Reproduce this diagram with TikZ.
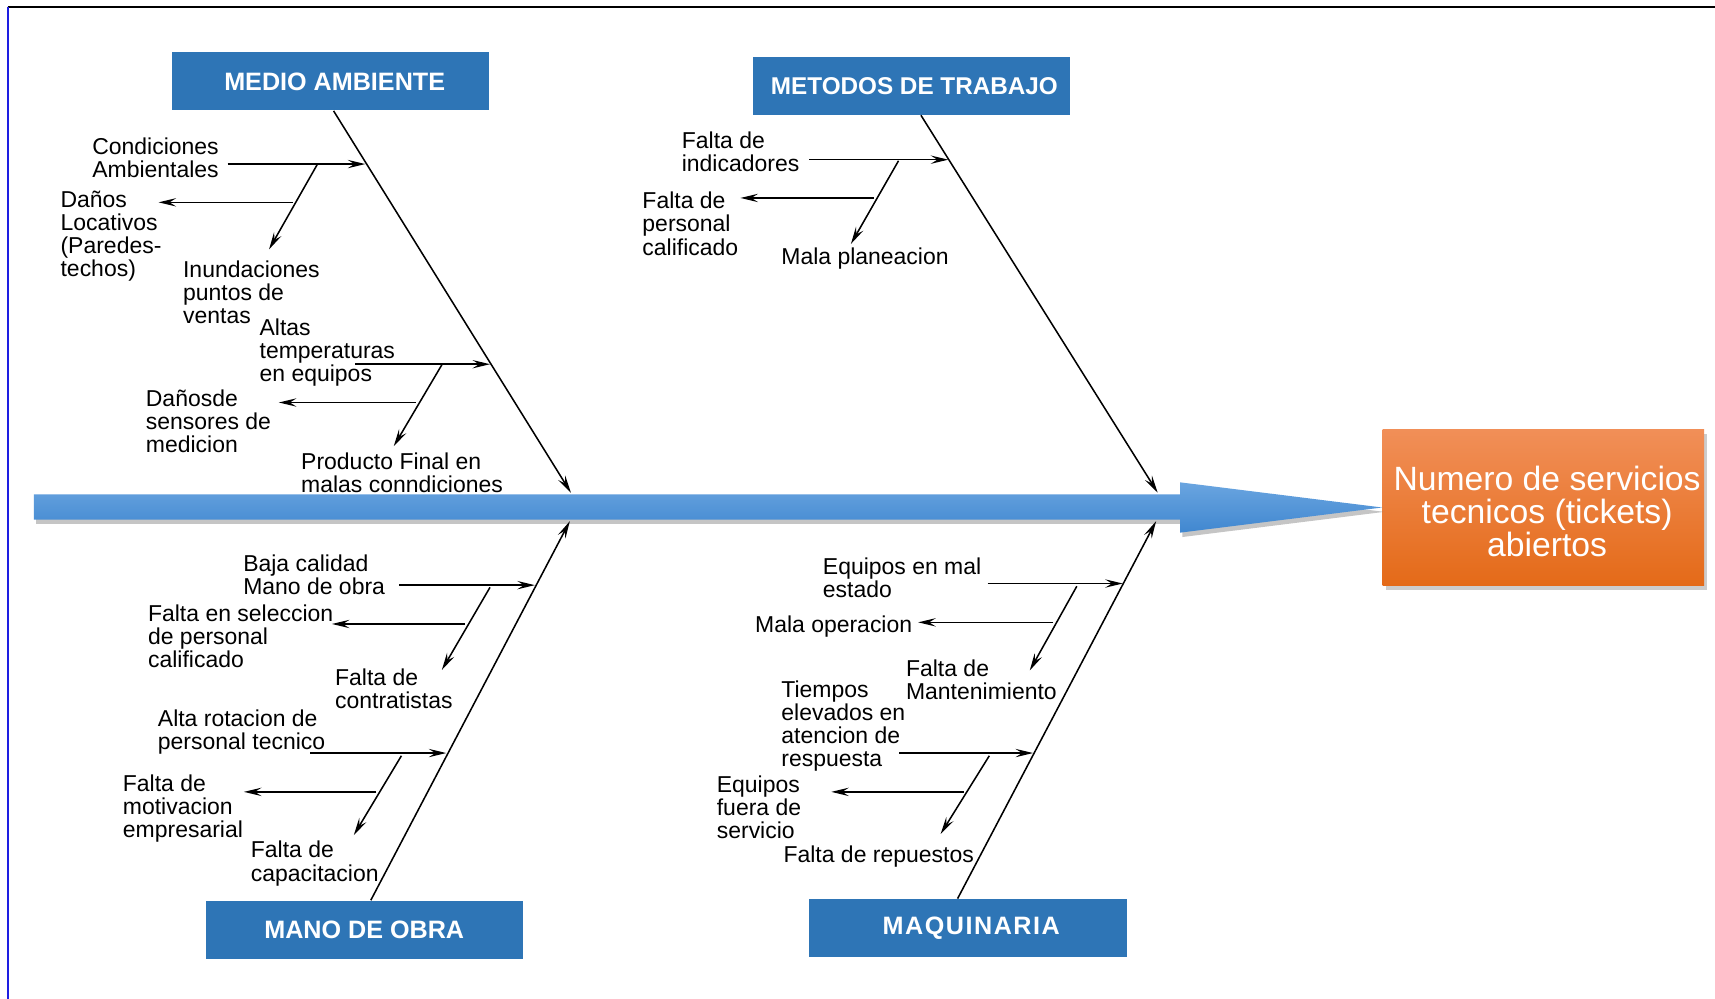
\documentclass[tikz,border=0pt]{standalone}
\usepackage{fontspec}
\setmainfont{Liberation Sans}
\usetikzlibrary{arrows.meta,shadows}
\definecolor{catblue}{RGB}{46,117,182}
\definecolor{spinetop}{RGB}{106,165,224}
\definecolor{spinebot}{RGB}{64,135,208}
\definecolor{orangetop}{RGB}{241,143,88}
\definecolor{orangebot}{RGB}{228,106,24}
\definecolor{frameblue}{RGB}{30,30,225}
\tikzset{
  cat/.style={fill=catblue, text=white, font=\bfseries\fontsize{11.5}{12}\selectfont,
    minimum width=145pt, minimum height=26.5pt, inner sep=0pt},
  effect/.style={top color=orangetop, bottom color=orangebot, text=white,
    font=\fontsize{15.4}{15}\selectfont, align=center,
    minimum width=147pt, minimum height=71.5pt, inner sep=0pt,
    drop shadow={shadow xshift=1.5pt, shadow yshift=-2pt, opacity=0.4}},
  lbl/.style={font=\fontsize{10.5}{10.6}\selectfont, align=left, inner sep=0pt, anchor=west},
  bone/.style={draw=black, line width=0.7pt, -{Stealth[length=8pt,width=3.8pt,inset=3pt]}},
  frameline/.style={line width=0.9pt}
}
\begin{document}
\begin{tikzpicture}[x=0.5pt,y=-0.5pt]
\useasboundingbox (0,0) rectangle (1568,913);
\fill[white] (0,0) rectangle (1568,913);
% frame
\coordinate (fa) at (7,6);
\coordinate (fb) at (1568,6);
\coordinate (fc) at (7,913);
\draw[frameline, black] (fa) -- (fb);
\draw[frameline, frameblue] (fa) -- (fc);

% effect box
\node[effect] (ef) at (1411,464) {\rule{0pt}{15pt}\hspace*{3.5pt}Numero de servicios\\\hspace*{3.5pt}tecnicos (tickets)\\\hspace*{3.5pt}abiertos};

% spine
\shade[top color=spinetop, bottom color=spinebot,
  drop shadow={shadow xshift=1pt, shadow yshift=-2pt, opacity=0.45}]
  (31,452) -- (1079,452) -- (1079,441) -- (ef.west) -- (1079,487) -- (1079,475) -- (31,475) -- cycle;

% category boxes
\node[cat] (ma) at (302,74.5) {\hspace*{4pt}MEDIO AMBIENTE};
\node[cat, font=\bfseries\fontsize{11.1}{12}\selectfont] (mt) at (833,78.5) {\hspace*{3pt}METODOS DE TRABAJO};
\node[cat] (mo) at (333,850) {\raisebox{-0.5pt}{MANO DE OBRA}};
\node[cat, font=\bfseries\fontsize{11.5}{12}\selectfont\addfontfeatures{LetterSpace=6}] (mq) at (885,848.5) {\hspace*{3pt}\raisebox{-1.5pt}{MAQUINARIA}};

% spine end points
\coordinate (s1) at (522,450.5);
\coordinate (s2) at (1058.5,450.5);
\coordinate (s3) at (521,476.5);
\coordinate (s4) at (1057,476.5);

% main bones
\draw[bone] ([xshift=1.5pt]ma.south) -- (s1);
\draw[bone] ([xshift=4.5pt]mt.south) -- (s2);
\draw[bone] ([xshift=3pt]mo.north) -- (s3);
\draw[bone] ([xshift=-4.75pt]mq.north) -- (s4);

% ---- MEDIO AMBIENTE sub-bones
\coordinate (ma1s) at (208,150);   \coordinate (ma1e) at (334,150);
\coordinate (ma1d) at (290,150.5); \coordinate (ma1f) at (246,228);
\coordinate (ma1l) at (268,185);   \coordinate (ma1m) at (145,185);
\coordinate (ma2s) at (325,333);   \coordinate (ma2e) at (448,333);
\coordinate (ma2d) at (404,333.5); \coordinate (ma2f) at (360,408);
\coordinate (ma2l) at (380,368);   \coordinate (ma2m) at (255,368);
\draw[bone] (ma1s) -- (ma1e);
\draw[bone] (ma1d) -- (ma1f);
\draw[bone] (ma1l) -- (ma1m);
\draw[bone] (ma2s) -- (ma2e);
\draw[bone] (ma2d) -- (ma2f);
\draw[bone] (ma2l) -- (ma2m);

\node[lbl] (t1) at (84,144.5) {Condiciones\\Ambientales};
\node[lbl] (t2) at (55,216) {Daños\\Locativos\\(Paredes-\\techos)};
\node[lbl] (t3) at (167,267) {Inundaciones\\puntos de\\ventas};
\node[lbl] (t4) at (237,322.5) {Altas\\temperaturas\\en equipos};
\node[lbl] (t5) at (133,385) {Dañosde\\sensores de\\medicion};
\node[lbl] (t6) at (275,432.5) {Producto Final en\\malas conndiciones};

% ---- METODOS DE TRABAJO sub-bones
\coordinate (mt1s) at (740,146);   \coordinate (mt1e) at (867,146);
\coordinate (mt1d) at (821.5,147); \coordinate (mt1f) at (778,223);
\coordinate (mt1l) at (799,181);   \coordinate (mt1m) at (677,181);
\draw[bone] (mt1s) -- (mt1e);
\draw[bone] (mt1d) -- (mt1f);
\draw[bone] (mt1l) -- (mt1m);

\node[lbl] (t7) at (623,139) {Falta de\\indicadores};
\node[lbl] (t8) at (587,204.5) {Falta de\\personal\\calificado};
\node[lbl] (t9) at (714,236) {Mala planeacion};

% ---- MANO DE OBRA sub-bones
\coordinate (mo1s) at (365,535);   \coordinate (mo1e) at (489,535);
\coordinate (mo1d) at (448,537);   \coordinate (mo1f) at (404,612.5);
\coordinate (mo1l) at (425,570.5); \coordinate (mo1m) at (303.5,570.5);
\coordinate (mo2s) at (283.5,688.5); \coordinate (mo2e) at (408,688.5);
\coordinate (mo2d) at (367,691);   \coordinate (mo2f) at (323.5,763.5);
\coordinate (mo2l) at (344,724);   \coordinate (mo2m) at (223,724);
\draw[bone] (mo1s) -- (mo1e);
\draw[bone] (mo1d) -- (mo1f);
\draw[bone] (mo1l) -- (mo1m);
\draw[bone] (mo2s) -- (mo2e);
\draw[bone] (mo2d) -- (mo2f);
\draw[bone] (mo2l) -- (mo2m);

\node[lbl] (t10) at (222,525.5) {Baja calidad\\Mano de obra};
\node[lbl] (t11) at (135,581.5) {Falta en seleccion\\de personal\\calificado};
\node[lbl] (t12) at (306,629.5) {Falta de\\contratistas};
\node[lbl] (t13) at (144,669.5) {Alta rotacion de\\personal tecnico};
\node[lbl] (t14) at (112,739.5) {Falta de\\motivacion\\empresarial};
\node[lbl] (t15) at (229,789.5) {Falta de\\capacitacion};

% ---- MAQUINARIA sub-bones
\coordinate (mq1s) at (903,533.5);   \coordinate (mq1e) at (1026.5,533.5);
\coordinate (mq1d) at (984.5,536);   \coordinate (mq1f) at (941.5,613);
\coordinate (mq1l) at (963,569);     \coordinate (mq1m) at (839.5,569);
\coordinate (mq2s) at (822,688.5);   \coordinate (mq2e) at (944.5,688.5);
\coordinate (mq2d) at (904.5,691);   \coordinate (mq2f) at (860,762.5);
\coordinate (mq2l) at (881.5,724);   \coordinate (mq2m) at (760,724);
\draw[bone] (mq1s) -- (mq1e);
\draw[bone] (mq1d) -- (mq1f);
\draw[bone] (mq1l) -- (mq1m);
\draw[bone] (mq2s) -- (mq2e);
\draw[bone] (mq2d) -- (mq2f);
\draw[bone] (mq2l) -- (mq2m);

\node[lbl] (t16) at (752,528) {Equipos en mal\\estado};
\node[lbl] (t17) at (690,573) {Mala operacion};
\node[lbl] (t18) at (828,621.5) {Falta de\\Mantenimiento};
\node[lbl] (t19) at (714,664) {Tiempos\\elevados en\\atencion de\\respuesta};
\node[lbl] (t20) at (655,738) {Equipos\\fuera de\\servicio};
\node[lbl] (t21) at (716,783) {Falta de repuestos};
\end{tikzpicture}
\end{document}
